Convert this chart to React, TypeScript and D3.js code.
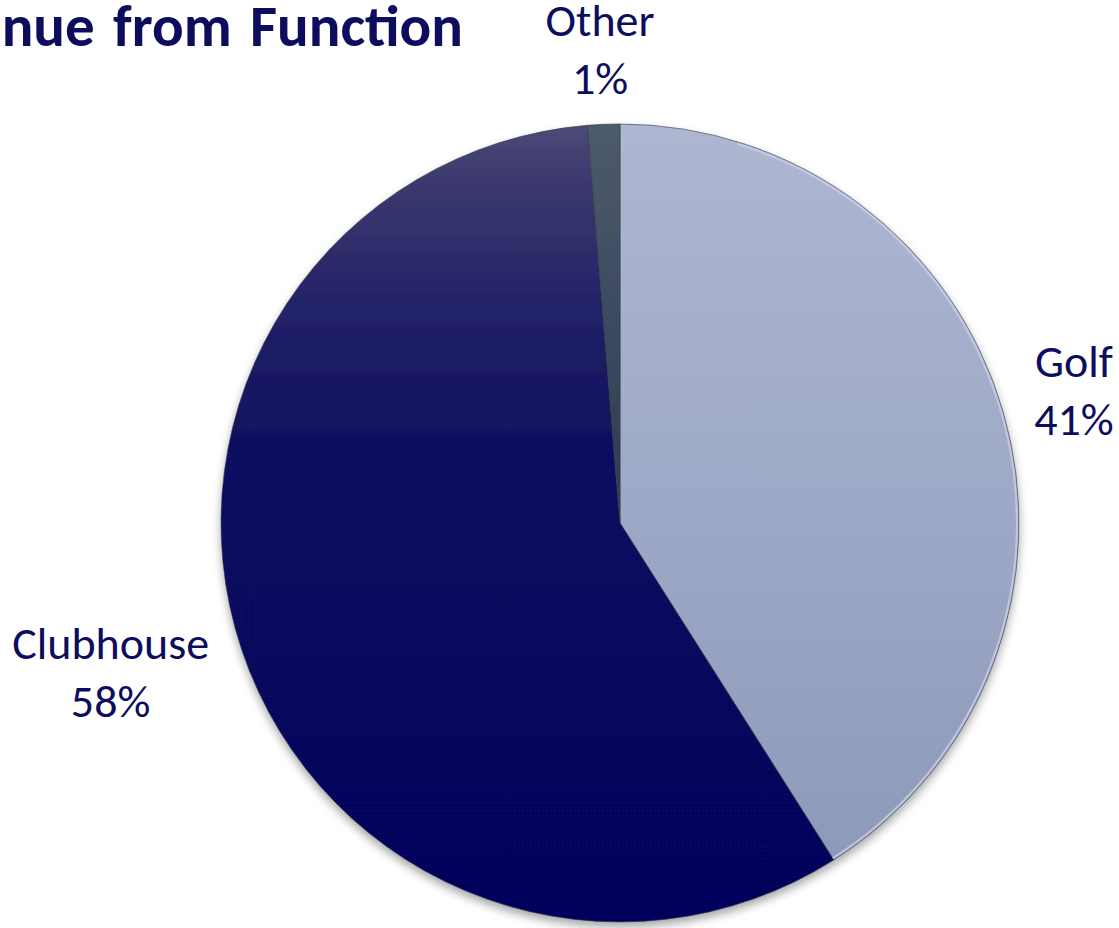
import React, { useMemo } from "react";
import * as d3 from "d3";

const categories = ["Golf", "Clubhouse", "Other"];
const values = [41.0, 57.7, 1.3];
const titleText = "Revenue from Function";

const W = 1119;
const H = 928;
const FONT = "Carlito, Calibri, Lato, 'Open Sans', sans-serif";

const gradStops: Record<string, [number, string][]> = {
  Golf: [[0, "#adb7d2"], [0.5, "#9da8c6"], [1, "#8b97b7"]],
  Clubhouse: [[0, "#4e4b76"], [0.05, "#3f3d70"], [0.22, "#242368"], [0.4, "#10105f"], [0.52, "#07075e"], [1, "#06065c"]],
  Other: [[0, "#4d5b6b"], [0.5, "#2b3a52"], [1, "#1c2a48"]],
};

function measure(text: string, font: string) {
  const c = document.createElement("canvas");
  const ctx = c.getContext("2d")!;
  ctx.font = font;
  return ctx.measureText(text).width;
}

export default function App() {
  const cx = 620;
  const cy = 523;
  const r = 399;
  const labelSize = 46;
  const lineH = 58;

  const arcs = useMemo(
    () => d3.pie<number>().sort(null).value((d) => d)(values),
    []
  );
  const arcGen = d3.arc<d3.PieArcDatum<number>>().innerRadius(0).outerRadius(r);
  const total = d3.sum(values);

  const labels = arcs.map((a, i) => {
    const mid = (a.startAngle + a.endAngle) / 2;
    const pct = `${Math.round((values[i] / total) * 100)}%`;
    const font = `${labelSize}px ${FONT}`;
    const w = Math.max(measure(categories[i], font), measure(pct, font));
    const hw = (w / 2) * 1.1;
    const hh = 44;
    const rr = r + 30;
    const px = cx + rr * Math.sin(mid) + hw * Math.sin(mid);
    const py = cy - rr * Math.cos(mid) - hh * Math.cos(mid);
    return { x: px, y: py, name: categories[i], pct };
  });

  return (
    <svg
      width={W}
      height={H}
      style={{ position: "absolute", left: 0, top: 0, background: "#fff" }}
    >
      <defs>
        {categories.map((c) => (
          <linearGradient
            key={c}
            id={`g-${c}`}
            gradientUnits="userSpaceOnUse"
            x1={0}
            y1={-r}
            x2={0}
            y2={r}
          >
            {gradStops[c].map(([o, col], k) => (
              <stop key={k} offset={o} stopColor={col} />
            ))}
          </linearGradient>
        ))}
        <filter id="shadow" x="-20%" y="-20%" width="140%" height="140%">
          <feGaussianBlur in="SourceAlpha" stdDeviation="5" />
          <feOffset dx="0" dy="5" result="b" />
          <feComponentTransfer>
            <feFuncA type="linear" slope="0.35" />
          </feComponentTransfer>
          <feMerge>
            <feMergeNode />
            <feMergeNode in="SourceGraphic" />
          </feMerge>
        </filter>
      </defs>

      <text
        x={463}
        y={46}
        textAnchor="end"
        fontFamily={FONT}
        fontWeight="bold"
        fontSize={59}
        wordSpacing={5}
        fill="#0d0d5e"
      >
        {titleText}
      </text>

      <g transform={`translate(${cx},${cy})`} filter="url(#shadow)">
        {arcs.map((a, i) => (
          <path
            key={categories[i]}
            d={arcGen(a) || ""}
            fill={`url(#g-${categories[i]})`}
            stroke="#3a3a4a"
            strokeOpacity={0.6}
            strokeWidth={1}
          />
        ))}
        <path
          d={
            d3
              .arc()
              .innerRadius(r - 3)
              .outerRadius(r - 1)
              .startAngle(arcs[0].startAngle + 0.3)
              .endAngle(arcs[0].endAngle)({} as any) || ""
          }
          fill="#c9d0e6"
          opacity={0.8}
        />
      </g>

      {labels.map((l) => (
        <text
          key={l.name}
          textAnchor="middle"
          fontFamily={FONT}
          fontSize={labelSize}
          fill="#0d0d5e"
        >
          <tspan x={l.x} y={l.y - 14}>
            {l.name}
          </tspan>
          <tspan x={l.x} y={l.y - 14 + lineH}>
            {l.pct}
          </tspan>
        </text>
      ))}
    </svg>
  );
}
